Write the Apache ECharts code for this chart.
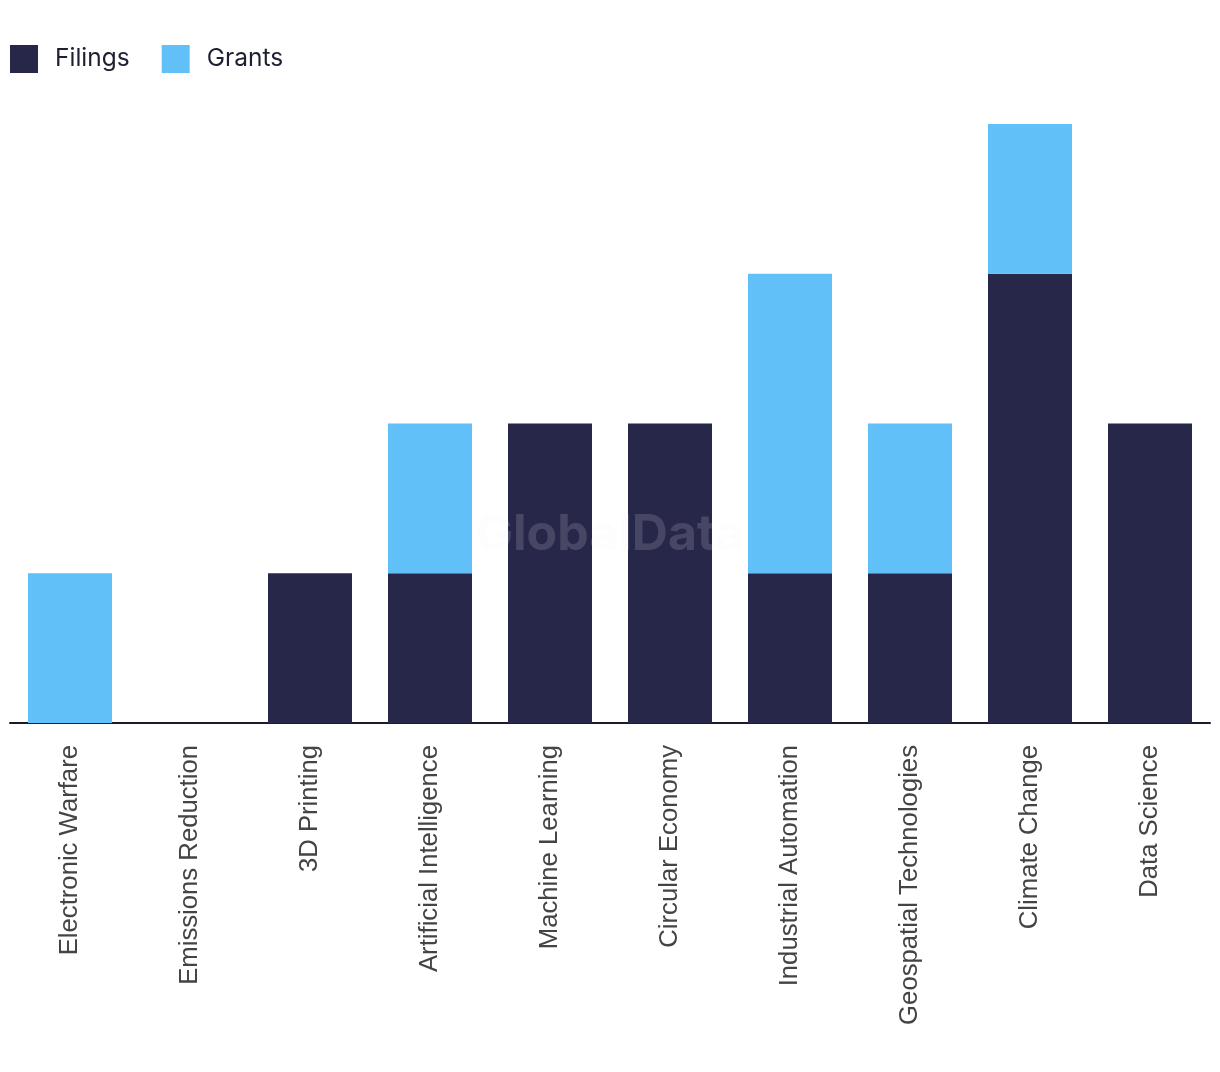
<!DOCTYPE html>
<html><head><meta charset="utf-8">
<script src="https://cdn.jsdelivr.net/npm/echarts@6/dist/echarts.min.js"></script>
<style>html,body{margin:0;padding:0;background:#fff}#c{width:1220px;height:1072px}</style>
</head><body><div id="c"></div>
<script>
const categories = ["Electronic Warfare","Emissions Reduction","3D Printing","Artificial Intelligence","Machine Learning","Circular Economy","Industrial Automation","Geospatial Technologies","Climate Change","Data Science"];
const filings = [0,0,1,1,2,2,1,1,3,2];
const grants = [1,0,0,1,0,0,2,1,1,0];
const chart = echarts.init(document.getElementById('c'));
chart.setOption({
  animation:false,
  legend:{left:5,top:40,itemWidth:28,itemHeight:28,itemGap:32,icon:'rect',
    textStyle:{fontFamily:'Inter',fontSize:24.5,color:'#1e1f33',padding:[0,0,0,12]},
    data:['Filings','Grants']},
  grid:{left:10,right:10,top:124,bottom:349,containLabel:false},
  xAxis:{type:'category',data:categories,
    axisLine:{lineStyle:{color:'#1a1a2e',width:2}},axisTick:{show:false},
    axisLabel:{rotate:90,interval:0,margin:22,fontFamily:'Liberation Sans',fontSize:25.7,color:'#444'}},
  yAxis:{type:'value',min:0,max:4,show:false,splitLine:{show:false}},
  graphic:[{type:'text',left:'center',top:510,z:100,style:{text:'GlobalData',font:'bold 50px Inter',fill:'rgba(240,240,245,0.16)'}}],
  series:[
    {name:'Filings',type:'bar',stack:'a',barWidth:'70%',data:filings,itemStyle:{color:'#27274a'}},
    {name:'Grants',type:'bar',stack:'a',barWidth:'70%',data:grants,itemStyle:{color:'#62c0f8'}}
  ]
});
</script></body></html>
